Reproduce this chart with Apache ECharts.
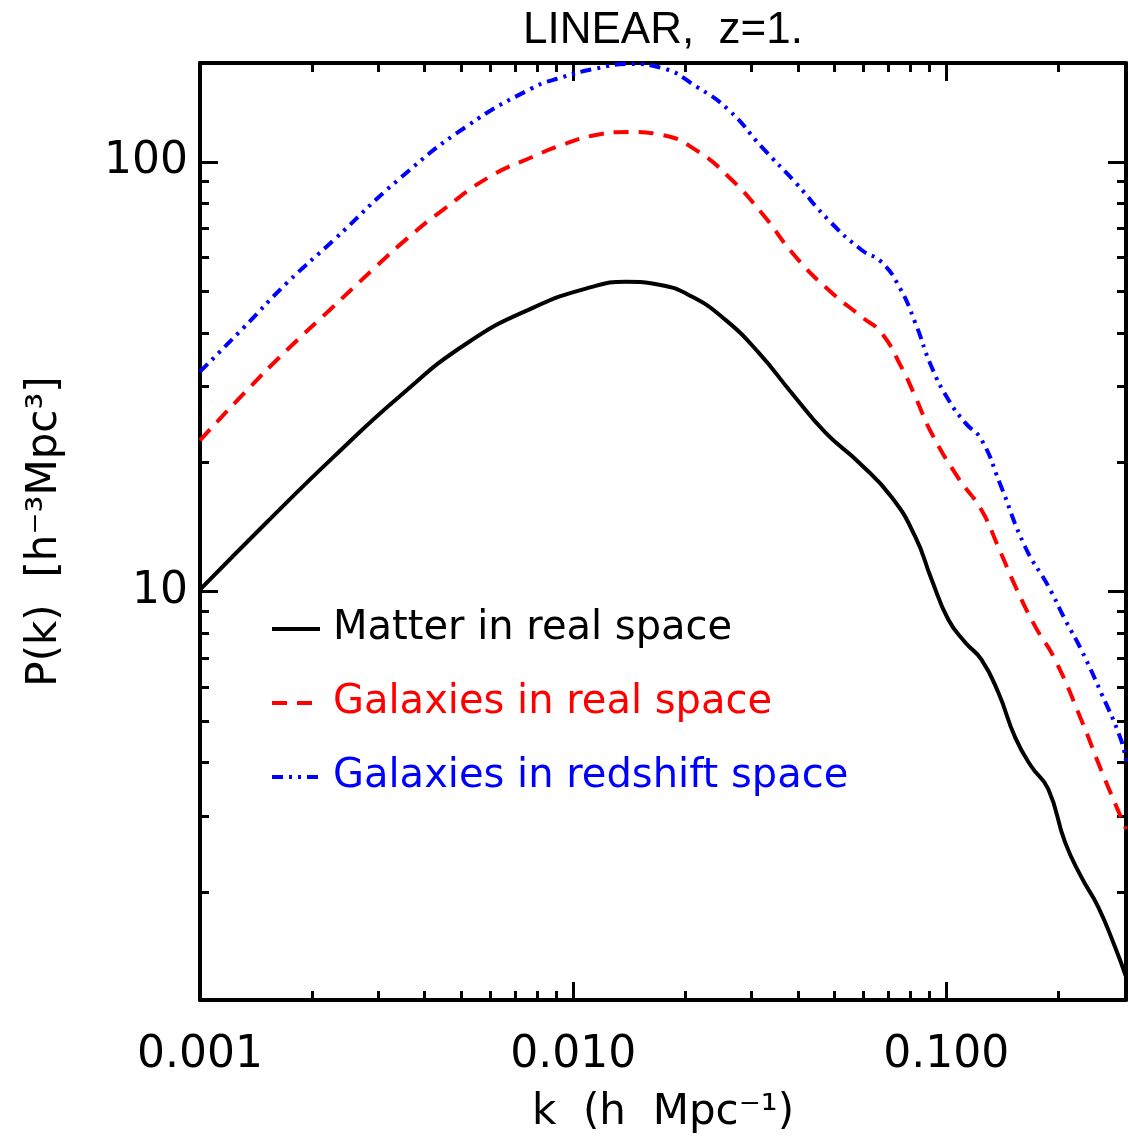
<!DOCTYPE html>
<html><head><meta charset="utf-8">
<script src="https://cdn.jsdelivr.net/npm/echarts@6/dist/echarts.min.js"></script>
<style>html,body{margin:0;padding:0;background:#fff}#c{width:1128px;height:1140px}</style>
</head><body><div id="c"></div>
<script>
// ---- data ----
const kMatter = [0.001, 0.00151, 0.00227, 0.00343, 0.00518, 0.00777, 0.01124, 0.01387, 0.0170, 0.0208, 0.0256, 0.0314, 0.0385, 0.0475, 0.0582, 0.0713, 0.0826, 0.0912, 0.1012, 0.1124, 0.1241, 0.1378, 0.1530, 0.1688, 0.1875, 0.208, 0.2297, 0.2548, 0.283, 0.303];
const pMatter = [10.1, 14.5, 20.5, 28.5, 37.8, 45.7, 51.2, 52.6, 51.8, 48.6, 42.9, 36.0, 29.0, 23.4, 20.0, 16.6, 13.4, 10.7, 8.61, 7.61, 6.95, 5.82, 4.57, 3.92, 3.47, 2.61, 2.17, 1.85, 1.49, 1.27];

const kGalReal = [0.001, 0.00130, 0.00171, 0.00223, 0.00290, 0.00360, 0.00447, 0.00596, 0.00777, 0.00935, 0.01151, 0.01412, 0.0173, 0.02134, 0.02612, 0.0320, 0.0395, 0.0483, 0.0593, 0.0670, 0.0758, 0.0826, 0.0912, 0.1076, 0.1241, 0.1378, 0.1530, 0.173, 0.1955, 0.2297, 0.2597, 0.303];
const pGalReal = [22.5, 28.7, 36.5, 45.3, 56.1, 66.5, 77.3, 92.3, 102.7, 109.6, 115.6, 117.5, 115.6, 106.6, 92.3, 76.1, 60.1, 50.4, 43.6, 40.0, 33.3, 28.4, 23.4, 18.4, 15.5, 12.7, 10.3, 8.30, 6.95, 5.04, 3.85, 2.80];

const kGalRsd = [0.001, 0.00130, 0.00171, 0.00227, 0.00343, 0.00518, 0.00777, 0.00935, 0.01151, 0.01412, 0.0173, 0.02134, 0.02612, 0.0320, 0.0395, 0.0483, 0.0593, 0.0670, 0.0748, 0.0826, 0.0912, 0.1012, 0.1124, 0.1241, 0.139, 0.1627, 0.1875, 0.208, 0.2297, 0.2597, 0.2935, 0.303];
const pGalRsd = [32.5, 40.9, 52.3, 65.5, 91.5, 121.0, 148.6, 157.5, 165.0, 169.1, 165.5, 150.0, 132.1, 108.4, 89.4, 73.3, 62.4, 58.5, 51.2, 42.2, 33.4, 28.0, 24.7, 22.6, 17.9, 12.7, 10.3, 8.61, 7.33, 5.82, 4.53, 4.03];

const seriesNames = ['Matter in real space', 'Galaxies in real space', 'Galaxies in redshift space'];
const seriesColors = ['#000000', '#ff0000', '#0000ff'];

const xMajorTicks = [0.001, 0.01, 0.1];
const xMajorLabels = ['0.001', '0.010', '0.100'];
const xMinorTicks = [0.002, 0.003, 0.004, 0.005, 0.006, 0.007, 0.008, 0.009, 0.02, 0.03, 0.04, 0.05, 0.06, 0.07, 0.08, 0.09, 0.2];
const yMajorTicks = [10, 100];
const yMajorLabels = ['10', '100'];
const yMinorTicks = [2, 3, 4, 5, 6, 7, 8, 9, 20, 30, 40, 50, 60, 70, 80, 90];

const X_MIN = 0.001, X_MAX = 0.303, Y_MIN = 1.12, Y_MAX = 170;

// ---- chart ----
const FONT = 'DejaVu Sans';
const chart = echarts.init(document.getElementById('c'), null, {renderer: 'canvas'});

function pickLabel(ticks, labels, v) {
  const i = ticks.findIndex(t => Math.abs(Math.log10(t) - Math.log10(v)) < 1e-6);
  return i >= 0 ? labels[i] : '';
}
function axisDef(kind, pos, major, withLabels, extra) {
  const isX = kind === 'x';
  const ax = {
    type: 'log', logBase: 10,
    min: isX ? X_MIN : Y_MIN, max: isX ? X_MAX : Y_MAX,
    position: pos, gridIndex: 0,
    axisLine: {show: major, lineStyle: {color: '#000', width: 4}},
    axisTick: {show: true, inside: true, length: major ? 18 : 9,
      lineStyle: {color: '#000', width: 3},
      customValues: major ? (isX ? xMajorTicks : yMajorTicks) : (isX ? xMinorTicks : yMinorTicks)},
    axisLabel: {show: false},
    splitLine: {show: false}, minorTick: {show: false}, minorSplitLine: {show: false}
  };
  if (withLabels) {
    const t = isX ? xMajorTicks : yMajorTicks, l = isX ? xMajorLabels : yMajorLabels;
    ax.axisLabel = {show: true, customValues: t, margin: isX ? 34 : 12,
      fontFamily: FONT, fontSize: 44, color: '#000',
      formatter: v => pickLabel(t, l, v)};
  }
  if (extra) Object.assign(ax, extra);
  return ax;
}

const lineStyles = [
  {color: seriesColors[0], width: 4, type: 'solid'},
  {color: seriesColors[1], width: 4, type: [15, 10]},
  {color: seriesColors[2], width: 4, type: [11, 6, 3, 6, 3, 6]}
];
const ks = [kMatter, kGalReal, kGalRsd];
const ps = [pMatter, pGalReal, pGalRsd];

const option = {
  animation: false,
  backgroundColor: '#ffffff',
  grid: {left: 200, right: 2, top: 63, bottom: 140, containLabel: false},
  xAxis: [
    axisDef('x', 'bottom', true, true, {name: 'k  (h  Mpc⁻¹)', nameLocation: 'middle', nameGap: 92,
      nameTextStyle: {fontFamily: FONT, fontSize: 42, color: '#000'}}),
    axisDef('x', 'bottom', false, false),
    axisDef('x', 'top', true, false, {name: 'LINEAR,  z=1.', nameLocation: 'middle', nameGap: 10,
      nameTextStyle: {fontFamily: 'Liberation Sans', fontSize: 44, color: '#000'}}),
    axisDef('x', 'top', false, false)
  ],
  yAxis: [
    axisDef('y', 'left', true, true, {name: 'P(k)  [h⁻³Mpc³]', nameLocation: 'middle', nameGap: 134,
      nameTextStyle: {fontFamily: FONT, fontSize: 42, color: '#000'}}),
    axisDef('y', 'left', false, false),
    axisDef('y', 'right', true, false),
    axisDef('y', 'right', false, false)
  ],
  legend: {
    orient: 'vertical', left: 265, top: 603,
    itemWidth: 48, itemHeight: 14, itemGap: 32,
    itemStyle: {opacity: 0},
    lineStyle: {width: 4},
    textStyle: {fontFamily: FONT, fontSize: 40, lineHeight: 42, padding: [0, 0, 0, 8]},
    data: seriesNames.map((n, i) => ({name: n, textStyle: {color: seriesColors[i]}}))
  },
  series: seriesNames.map((n, i) => ({
    name: n, type: 'line', xAxisIndex: 0, yAxisIndex: 0,
    data: ks[i].map((k, j) => [k, ps[i][j]]),
    smooth: 0.5, showSymbol: false, symbol: 'none',
    lineStyle: lineStyles[i], itemStyle: {color: seriesColors[i]},
    clip: true, z: 5
  }))
};
chart.setOption(option);
</script>
</body></html>
